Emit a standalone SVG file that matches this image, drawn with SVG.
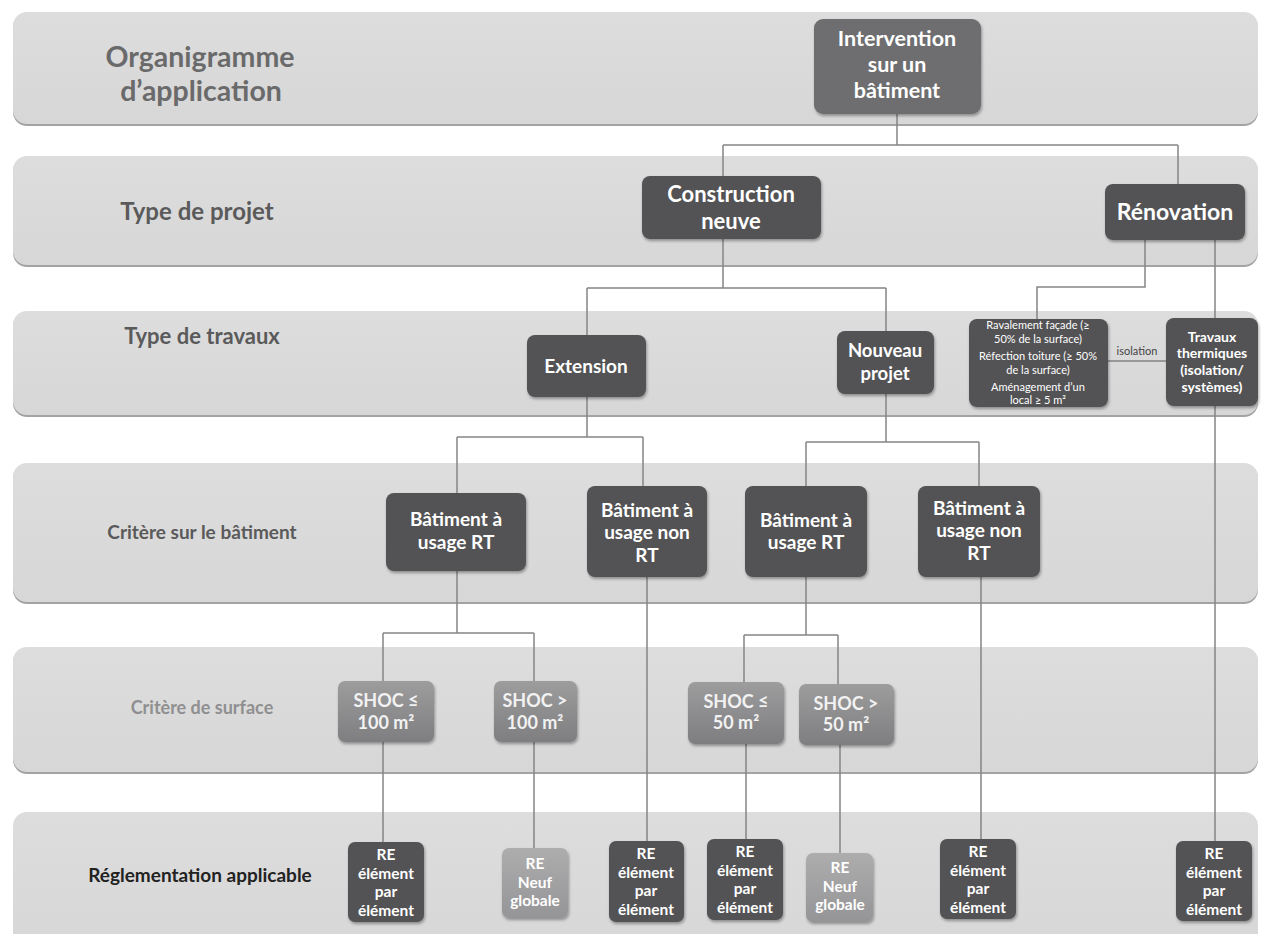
<svg xmlns="http://www.w3.org/2000/svg" width="1261" height="934" viewBox="0 0 1261 934">
<defs>
<linearGradient id="gBand" x1="0" y1="0" x2="0" y2="1"><stop offset="0" stop-color="#dddddd"/><stop offset="1" stop-color="#d7d7d8"/></linearGradient>
<linearGradient id="gShoc" x1="0" y1="0" x2="0" y2="1"><stop offset="0" stop-color="#9d9d9e"/><stop offset="1" stop-color="#7e7e80"/></linearGradient>
<linearGradient id="gNeuf" x1="0" y1="0" x2="0" y2="1"><stop offset="0" stop-color="#adadae"/><stop offset="1" stop-color="#959597"/></linearGradient>
<filter id="sh" x="-20%" y="-20%" width="140%" height="140%"><feDropShadow dx="1" dy="2" stdDeviation="1.5" flood-color="#000" flood-opacity="0.35"/></filter>
</defs>
<style>
.band{fill:url(#gBand)}
.bandsh{fill:#a3a3a4}
.blab{font-family:Lato,"Noto Sans",sans-serif;font-weight:700;text-anchor:middle}
.dark{fill:#525254;filter:url(#sh)}
.mid{fill:#6e6e70;filter:url(#sh)}
.shoc{fill:url(#gShoc);filter:url(#sh)}
.neuf{fill:url(#gNeuf);filter:url(#sh)}
.t{font-family:Lato,"Noto Sans",sans-serif;font-weight:700;fill:#fff;text-anchor:middle}
.tr{font-family:Lato,"Noto Sans",sans-serif;font-weight:400;fill:#fff;text-anchor:middle}
.ts{font-family:Lato,"Noto Sans",sans-serif;font-weight:700;fill:#f2f2f2;text-anchor:middle}
.re{font-size:15.5px}
.con{fill:none;stroke:#858586;stroke-width:1.5}
</style>
<g id="bands">
<rect class="bandsh" x="13" y="14" width="1245" height="112" rx="14"/>
<rect class="band" x="13" y="12" width="1245" height="112" rx="14"/>
<rect class="bandsh" x="13" y="158" width="1245" height="109" rx="14"/>
<rect class="band" x="13" y="156" width="1245" height="109" rx="14"/>
<rect class="bandsh" x="13" y="313" width="1245" height="104" rx="14"/>
<rect class="band" x="13" y="311" width="1245" height="104" rx="14"/>
<rect class="bandsh" x="13" y="465" width="1245" height="139" rx="14"/>
<rect class="band" x="13" y="463" width="1245" height="139" rx="14"/>
<rect class="bandsh" x="13" y="649" width="1245" height="125" rx="14"/>
<rect class="band" x="13" y="647" width="1245" height="125" rx="14"/>
<rect class="band" x="13" y="812" width="1245" height="140" rx="14"/>
<text class="blab" x="200" y="67" font-size="28.5" fill="#6a6a6b">Organigramme</text>
<text class="blab" x="201" y="101" font-size="28.5" fill="#6a6a6b">d’application</text>
<text class="blab" x="197" y="220" font-size="24" fill="#5a5a5b">Type de projet</text>
<text class="blab" x="202" y="344" font-size="22" fill="#5a5a5b">Type de travaux</text>
<text class="blab" x="202" y="539" font-size="19" fill="#5a5a5b">Critère sur le bâtiment</text>
<text class="blab" x="202" y="714" font-size="18" fill="#8f8f90">Critère de surface</text>
<text class="blab" x="200" y="882" font-size="19" fill="#222">Réglementation applicable</text>
</g>
<g id="connectors">
<path class="con" d="M897,114V145M723,145H1178M723,145V176M1178,145V184"/>
<path class="con" d="M723,239V288M587,288H886M587,288V335M886,288V331"/>
<path class="con" d="M1145,240V287H1037V319"/>
<path class="con" d="M1215,240V841"/>
<path class="con" d="M1108,361H1166"/>
<path class="con" d="M587,397V437M457,437H643M457,437V493M643,437V486"/>
<path class="con" d="M886,394V442M806,442H979M806,442V486M979,442V486"/>
<path class="con" d="M457,571V633M383,633H534M383,633V681M534,633V681"/>
<path class="con" d="M647,577V841"/>
<path class="con" d="M806,577V635M744,635H838M744,635V682M838,635V684"/>
<path class="con" d="M981,577V839"/>
<path class="con" d="M383,742V842"/>
<path class="con" d="M534,742V848" stroke="#9a9a9b"/>
<path class="con" d="M746,744V839"/>
<path class="con" d="M840,745V853" stroke="#9a9a9b"/>
<text x="1137" y="355" font-family="Lato,'Noto Sans',sans-serif" font-size="11" fill="#444" text-anchor="middle">isolation</text>
</g>
<g id="n_intervention"><rect class="mid" x="814" y="19" width="167" height="95" rx="9"/>
<text class="t" font-size="21.5"><tspan x="897" y="46">Intervention</tspan><tspan x="897" y="72">sur un</tspan><tspan x="897" y="98">bâtiment</tspan></text></g>
<g id="n_construction"><rect class="dark" x="642" y="176" width="179" height="63" rx="8"/>
<text class="t" font-size="22"><tspan x="731" y="202">Construction</tspan><tspan x="731" y="229">neuve</tspan></text></g>
<g id="n_renovation"><rect class="dark" x="1105" y="184" width="140" height="56" rx="8"/>
<text class="t" font-size="23" x="1175" y="220">Rénovation</text></g>
<g id="n_extension"><rect class="dark" x="527" y="335" width="119" height="62" rx="8"/>
<text class="t" font-size="19" x="586" y="373">Extension</text></g>
<g id="n_nouveau"><rect class="dark" x="837" y="331" width="97" height="63" rx="8"/>
<text class="t" font-size="18.5"><tspan x="885" y="357">Nouveau</tspan><tspan x="885" y="380">projet</tspan></text></g>
<g id="n_ravalement"><rect class="dark" x="969" y="319" width="139" height="88" rx="8"/>
<text class="tr" font-size="11"><tspan x="1038" y="329">Ravalement façade (≥</tspan><tspan x="1038" y="343">50% de la surface)</tspan><tspan x="1038" y="360">Réfection toiture (≥ 50%</tspan><tspan x="1038" y="374">de la surface)</tspan><tspan x="1038" y="391">Aménagement d’un</tspan><tspan x="1038" y="404">local ≥ 5 m²</tspan></text></g>
<g id="n_travaux"><rect class="dark" x="1166" y="318" width="92" height="88" rx="8"/>
<text class="t" font-size="14"><tspan x="1212" y="342">Travaux</tspan><tspan x="1212" y="358">thermiques</tspan><tspan x="1212" y="375">(isolation/</tspan><tspan x="1212" y="392">systèmes)</tspan></text></g>
<g id="n_rt1"><rect class="dark" x="386" y="493" width="140" height="78" rx="8"/>
<text class="t" font-size="19"><tspan x="456" y="526">Bâtiment à</tspan><tspan x="456" y="549">usage RT</tspan></text></g>
<g id="n_nonrt1"><rect class="dark" x="587" y="486" width="120" height="91" rx="8"/>
<text class="t" font-size="19"><tspan x="647" y="517">Bâtiment à</tspan><tspan x="647" y="539">usage non</tspan><tspan x="647" y="562">RT</tspan></text></g>
<g id="n_rt2"><rect class="dark" x="745" y="486" width="122" height="91" rx="8"/>
<text class="t" font-size="19"><tspan x="806" y="527">Bâtiment à</tspan><tspan x="806" y="549">usage RT</tspan></text></g>
<g id="n_nonrt2"><rect class="dark" x="918" y="486" width="122" height="91" rx="8"/>
<text class="t" font-size="19"><tspan x="979" y="515">Bâtiment à</tspan><tspan x="979" y="537">usage non</tspan><tspan x="979" y="560">RT</tspan></text></g>
<g id="n_shoc100a"><rect class="shoc" x="338" y="681" width="96" height="61" rx="7"/>
<text class="ts" font-size="18"><tspan x="386" y="707">SHOC ≤</tspan><tspan x="386" y="729">100 m²</tspan></text></g>
<g id="n_shoc100b"><rect class="shoc" x="494" y="681" width="83" height="61" rx="7"/>
<text class="ts" font-size="18"><tspan x="535" y="707">SHOC &gt;</tspan><tspan x="535" y="729">100 m²</tspan></text></g>
<g id="n_shoc50a"><rect class="shoc" x="688" y="682" width="96" height="62" rx="7"/>
<text class="ts" font-size="18"><tspan x="736" y="708">SHOC ≤</tspan><tspan x="736" y="729">50 m²</tspan></text></g>
<g id="n_shoc50b"><rect class="shoc" x="799" y="684" width="95" height="61" rx="7"/>
<text class="ts" font-size="18"><tspan x="846" y="710">SHOC &gt;</tspan><tspan x="846" y="731">50 m²</tspan></text></g>
<g id="n_re1"><rect class="dark" x="348" y="842" width="76" height="80" rx="7"/>
<text class="t re"><tspan x="386" y="860">RE</tspan><tspan x="386" y="879">élément</tspan><tspan x="386" y="897">par</tspan><tspan x="386" y="916">élément</tspan></text></g>
<g id="n_reneuf1"><rect class="neuf" x="502" y="848" width="66" height="70" rx="7"/>
<text class="t re"><tspan x="535" y="869">RE</tspan><tspan x="535" y="888">Neuf</tspan><tspan x="535" y="906">globale</tspan></text></g>
<g id="n_re2"><rect class="dark" x="609" y="841" width="75" height="81" rx="7"/>
<text class="t re"><tspan x="646" y="859">RE</tspan><tspan x="646" y="878">élément</tspan><tspan x="646" y="896">par</tspan><tspan x="646" y="915">élément</tspan></text></g>
<g id="n_re3"><rect class="dark" x="707" y="839" width="76" height="81" rx="7"/>
<text class="t re"><tspan x="745" y="857">RE</tspan><tspan x="745" y="876">élément</tspan><tspan x="745" y="894">par</tspan><tspan x="745" y="913">élément</tspan></text></g>
<g id="n_reneuf2"><rect class="neuf" x="806" y="853" width="67" height="69" rx="7"/>
<text class="t re"><tspan x="840" y="873">RE</tspan><tspan x="840" y="892">Neuf</tspan><tspan x="840" y="910">globale</tspan></text></g>
<g id="n_re4"><rect class="dark" x="940" y="839" width="76" height="80" rx="7"/>
<text class="t re"><tspan x="978" y="857">RE</tspan><tspan x="978" y="876">élément</tspan><tspan x="978" y="894">par</tspan><tspan x="978" y="913">élément</tspan></text></g>
<g id="n_re5"><rect class="dark" x="1176" y="841" width="76" height="80" rx="7"/>
<text class="t re"><tspan x="1214" y="859">RE</tspan><tspan x="1214" y="878">élément</tspan><tspan x="1214" y="896">par</tspan><tspan x="1214" y="915">élément</tspan></text></g>
</svg>
